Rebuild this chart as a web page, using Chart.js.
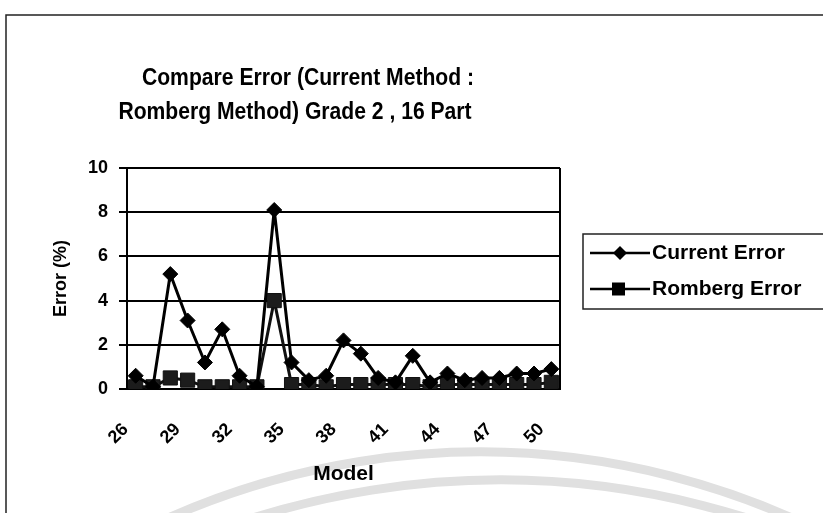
<!DOCTYPE html>
<html>
<head>
<meta charset="utf-8">
<script src="https://cdn.jsdelivr.net/npm/chart.js@4/dist/chart.umd.min.js"></script>
<style>
  html, body { margin: 0; padding: 0; background: #fff; }
  canvas { display: block; }
</style>
</head>
<body>
<canvas id="chart" width="823" height="513"></canvas>
<script>
// Model numbers along the x axis
const models = ['26','27','28','29','30','31','32','33','34','35','36','37','38',
                '39','40','41','42','43','44','45','46','47','48','49','50'];
// Error (%) of each method, one value per model
const currentError = [0.6, 0.1, 5.2, 3.1, 1.2, 2.7, 0.6, 0.1, 8.1, 1.2, 0.4, 0.6, 2.2,
                      1.6, 0.5, 0.3, 1.5, 0.3, 0.7, 0.4, 0.5, 0.5, 0.7, 0.7, 0.9];
const rombergError = [0.1, 0.1, 0.5, 0.4, 0.1, 0.1, 0.1, 0.1, 4.0, 0.2, 0.2, 0.1, 0.2,
                      0.2, 0.2, 0.2, 0.2, 0.1, 0.2, 0.2, 0.2, 0.2, 0.2, 0.2, 0.3];
const seriesNames = ['Current Error', 'Romberg Error'];
const titleLines = ['Compare Error (Current Method :', 'Romberg Method) Grade 2 , 16 Part'];
const yTicks = [0, 2, 4, 6, 8, 10];

const FONT = '"Liberation Sans", Arial, sans-serif';

// Draws a line of text squeezed horizontally around an anchor point
function condensedText(ctx, text, cx, cy, scaleX) {
  ctx.save();
  ctx.translate(cx, cy);
  ctx.scale(scaleX, 1);
  ctx.fillText(text, 0, 0);
  ctx.restore();
}

// Page frame, faint watermark arcs, title and the right edge of the plot box
const decorPlugin = {
  id: 'decor',
  beforeDraw(chart) {
    const ctx = chart.ctx;
    ctx.save();
    ctx.fillStyle = '#fff';
    ctx.fillRect(0, 0, chart.width, chart.height);
    // watermark arcs
    ctx.strokeStyle = '#e0e0e0';
    ctx.lineWidth = 9;
    ctx.beginPath();
    ctx.arc(480, 1220, 768, Math.PI * 1.2, Math.PI * 1.8);
    ctx.stroke();
    ctx.beginPath();
    ctx.arc(500, 1300, 820, Math.PI * 1.2, Math.PI * 1.8);
    ctx.stroke();
    // frame
    ctx.strokeStyle = '#222';
    ctx.lineWidth = 1.5;
    ctx.beginPath();
    ctx.moveTo(6, chart.height);
    ctx.lineTo(6, 15);
    ctx.lineTo(chart.width, 15);
    ctx.stroke();
    // title
    ctx.fillStyle = '#000';
    ctx.font = 'bold 24px ' + FONT;
    ctx.textAlign = 'center';
    ctx.textBaseline = 'middle';
    condensedText(ctx, titleLines[0], 308, 78, 0.88);
    condensedText(ctx, titleLines[1], 295, 112, 0.88);
    ctx.restore();
  },
  afterDatasetsDraw(chart) {
    const ctx = chart.ctx;
    const a = chart.chartArea;
    ctx.save();
    ctx.strokeStyle = '#000';
    ctx.lineWidth = 2;
    ctx.beginPath();
    ctx.moveTo(a.right, a.top);
    ctx.lineTo(a.right, a.bottom);
    ctx.stroke();
    ctx.restore();
  }
};

// Boxed legend to the right of the plot
const legendPlugin = {
  id: 'boxLegend',
  afterDraw(chart) {
    const ctx = chart.ctx;
    ctx.save();
    ctx.strokeStyle = '#222';
    ctx.lineWidth = 1.5;
    ctx.strokeRect(583, 234, 260, 75);
    const rows = [253, 289];
    chart.data.datasets.forEach((ds, i) => {
      const y = rows[i];
      ctx.strokeStyle = '#000';
      ctx.lineWidth = 2.5;
      ctx.beginPath();
      ctx.moveTo(590, y);
      ctx.lineTo(650, y);
      ctx.stroke();
      ctx.fillStyle = '#000';
      ctx.beginPath();
      if (ds.pointStyle === 'rectRot') {
        ctx.moveTo(620, y - 7); ctx.lineTo(627, y); ctx.lineTo(620, y + 7); ctx.lineTo(613, y);
      } else {
        ctx.rect(612, y - 6.5, 13, 13);
      }
      ctx.closePath();
      ctx.fill();
      ctx.font = 'bold 21px ' + FONT;
      ctx.textAlign = 'left';
      ctx.textBaseline = 'middle';
      condensedText(ctx, ds.label, 652, y, 1.0);
    });
    ctx.restore();
  }
};

new Chart(document.getElementById('chart'), {
  type: 'line',
  data: {
    labels: models,
    datasets: [
      {
        label: seriesNames[0],
        data: currentError,
        borderColor: '#000',
        backgroundColor: '#000',
        borderWidth: 3,
        borderJoinStyle: 'round',
        pointStyle: 'rectRot',
        pointRadius: 7.5,
        pointBorderWidth: 1,
        tension: 0
      },
      {
        label: seriesNames[1],
        data: rombergError,
        borderColor: '#111',
        backgroundColor: '#1c1c1c',
        borderWidth: 3,
        borderJoinStyle: 'round',
        pointStyle: 'rect',
        pointRadius: 10,
        pointBorderWidth: 1,
        tension: 0
      }
    ]
  },
  options: {
    responsive: false,
    devicePixelRatio: 1,
    animation: false,
    layout: { padding: { left: 50, top: 168, right: 263, bottom: 26 } },
    plugins: {
      legend: { display: false },
      title: { display: false },
      tooltip: { enabled: false }
    },
    scales: {
      x: {
        offset: true,
        grid: { display: false },
        border: { display: true, color: '#000', width: 2 },
        ticks: {
          autoSkip: false,
          minRotation: 45,
          maxRotation: 45,
          padding: 22,
          labelOffset: -10,
          color: '#000',
          font: { family: FONT, size: 18, weight: 'bold' },
          callback: (v, i) => (i % 3 === 0 ? models[i] : '')
        },
        title: {
          display: true,
          text: 'Model',
          color: '#000',
          font: { family: FONT, size: 21, weight: 'bold' },
          padding: { top: 0, bottom: 0 }
        },
        afterFit: s => { s.height = 98; }
      },
      y: {
        min: 0,
        max: 10,
        afterBuildTicks: s => { s.ticks = yTicks.map(v => ({ value: v })); },
        grid: { color: '#000', lineWidth: 2, tickLength: 8, drawTicks: true },
        border: { display: true, color: '#000', width: 2 },
        ticks: {
          padding: 11,
          color: '#000',
          font: { family: FONT, size: 18, weight: 'bold' }
        },
        title: {
          display: true,
          text: 'Error (%)',
          color: '#000',
          font: { family: FONT, size: 18, weight: 'bold' },
          padding: { top: 0, bottom: 0 }
        },
        afterFit: s => { s.width = 77; }
      }
    }
  },
  plugins: [decorPlugin, legendPlugin]
});
</script>
</body>
</html>
